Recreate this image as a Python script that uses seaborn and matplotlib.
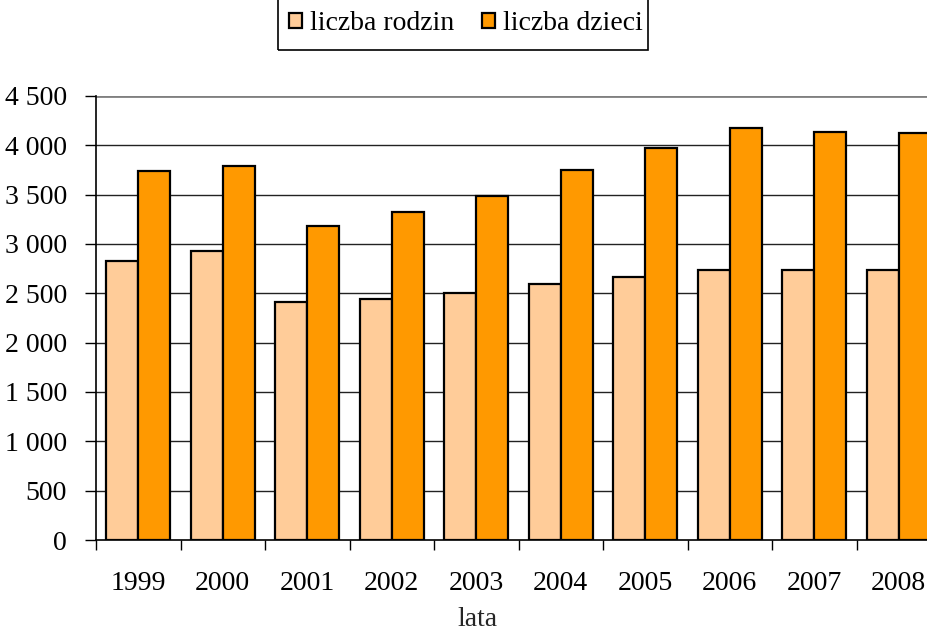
import seaborn as sns
import matplotlib.pyplot as plt
import matplotlib.ticker as mticker
from matplotlib.patches import Rectangle
import numpy as np
import pandas as pd

years = ["1999", "2000", "2001", "2002", "2003", "2004", "2005", "2006", "2007", "2008"]
rodziny = [2830, 2930, 2415, 2440, 2505, 2595, 2670, 2735, 2735, 2735]
dzieci = [3740, 3790, 3180, 3320, 3485, 3750, 3970, 4180, 4140, 4125]
series = ["liczba rodzin", "liczba dzieci"]
colors = ["#FFCC99", "#FF9900"]

df = pd.DataFrame({
    "rok": years * 2,
    "seria": [series[0]] * len(years) + [series[1]] * len(years),
    "wartosc": rodziny + dzieci,
})

sns.set_style("white")
plt.rcParams["font.family"] = ["Liberation Serif", "DejaVu Serif"]
plt.rcParams["text.color"] = "black"
plt.rcParams["xtick.color"] = "black"
plt.rcParams["ytick.color"] = "black"

fs = 20

fig = plt.figure(figsize=(9.27, 6.3), dpi=100)
ax = fig.add_axes([96 / 927, 1 - 540 / 630, 845 / 927, 444 / 630])

sns.barplot(data=df, x="rok", y="wartosc", hue="seria", palette=colors,
            width=0.76, edgecolor="black", linewidth=1.6, saturation=1,
            ax=ax, legend=False, zorder=3)

ax.set_xlim(-0.5, len(years) - 0.5)
ax.set_ylim(0, 4500)
ax.yaxis.set_major_locator(mticker.MultipleLocator(500))
ax.yaxis.set_major_formatter(
    mticker.FuncFormatter(lambda v, p: f"{int(v):,}".replace(",", " ")))

# gridlines
for v in np.arange(500, 4501, 500):
    ax.axhline(v, color="#808080" if v == 4500 else "#222222",
               lw=2 if v == 4500 else 1, zorder=1)

# ticks at category boundaries, labels at centers
ax.set_xticks(np.arange(-0.5, len(years), 1))
ax.set_xticklabels([])
ax.set_xticks(np.arange(len(years)), minor=True)
ax.set_xticklabels(years, minor=True)
ax.tick_params(axis="x", which="major", direction="out", length=7, width=1,
               color="black", bottom=True)
ax.tick_params(axis="x", which="minor", length=0, pad=22, labelsize=fs)
ax.tick_params(axis="y", direction="out", length=8, width=1, color="black",
               left=True, pad=13, labelsize=fs)

for s in ["top", "right"]:
    ax.spines[s].set_visible(False)
for s in ["left", "bottom"]:
    ax.spines[s].set_color("black")
    ax.spines[s].set_linewidth(1.2)
    ax.spines[s].set_zorder(4)

ax.set_xlabel("lata", fontsize=fs)
ax.xaxis.set_label_coords((477 - 96) / 845, -0.15)
ax.set_ylabel("")

handles = [Rectangle((0, 0), 1, 1, facecolor=c, edgecolor="black", lw=1.6)
           for c in colors]
fig.legend(handles, series, loc="center", bbox_to_anchor=(466 / 927, 1 - 24 / 630),
           ncol=2, frameon=False, fontsize=fs, handlelength=0.45, handleheight=0.45,
           handletextpad=0.3, columnspacing=1.0)
fig.patches.append(Rectangle((278 / 927, 1 - 50 / 630), 370 / 927, 70 / 630,
                             transform=fig.transFigure, fill=False,
                             edgecolor="black", lw=1.2))

fig.savefig("out.png", dpi=100)
